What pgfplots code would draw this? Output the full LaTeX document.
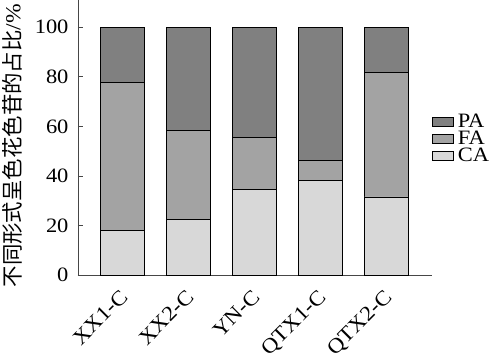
\documentclass[border=0pt]{standalone}
\usepackage{pgfplots}
\pgfplotsset{compat=1.18}
\usepackage{fontspec}
\setmainfont{Liberation Serif}[FakeStretch=1.1]
\newfontfamily\cjk{Noto Sans CJK SC}
\definecolor{cPA}{RGB}{128,128,128}
\definecolor{cFA}{RGB}{163,163,163}
\definecolor{cCA}{RGB}{216,216,216}
\definecolor{axgray}{RGB}{70,70,70}
\newcommand{\lf}{\fontsize{20.5}{25}\selectfont}
\begin{document}
\begin{tikzpicture}
\begin{axis}[
  at={(0,0)}, anchor=south west,
  scale only axis, width=354bp, height=275bp,
  ybar stacked, bar width=44bp,
  xmin=-0.667, xmax=4.697, ymin=0, ymax=111,
  axis x line*=bottom, axis y line*=left,
  axis line style={axgray, line width=0.9bp},
  xtick={0,1,2,3,4},
  xticklabels={XX1-C,XX2-C,YN-C,QTX1-C,QTX2-C},
  ytick={0,20,40,60,80,100},
  tick align=inside, major tick length=5bp,
  tick style={axgray, line width=0.8bp},
  /pgf/number format/assume math mode=true,
  yticklabel style={font=\fontsize{20.5}{25}\selectfont, xshift=-6bp},
  xticklabel style={font=\fontsize{21}{25}\selectfont, rotate=45, anchor=north east, xshift=-8bp, yshift=-4bp},
  ylabel={\cjk 不同形式呈色花色苷的占比\rmfamily /\%},
  ylabel style={font=\fontsize{21.5}{25}\selectfont, at={(axis description cs:-0.186,0.47)}, anchor=center, rotate=0},
  legend style={draw=none, fill=none, at={(axis description cs:1.0,0.495)}, anchor=west,
    row sep=-2bp, inner sep=0pt},
  reverse legend,
  legend image code/.code={\draw[#1, line width=0.6bp] (0bp,-4.5bp) rectangle (21bp,4.5bp);},
  legend cell align=left,
]
\addplot[fill=cCA, draw=black, line width=0.6bp] coordinates {(0,18) (1,22.5) (2,34.5) (3,38.3) (4,31.5)};
\addplot[fill=cFA, draw=black, line width=0.6bp] coordinates {(0,59.8) (1,35.8) (2,21.0) (3,7.9) (4,50.2)};
\addplot[fill=cPA, draw=black, line width=0.6bp] coordinates {(0,22.2) (1,41.7) (2,44.5) (3,53.8) (4,18.3)};
\legend{\lf\hspace{2bp}CA,\lf\hspace{2bp}FA,\lf\hspace{2bp}PA}
\end{axis}
\pgfresetboundingbox
\path (-78bp,-84bp) rectangle (414bp,275bp);
\end{tikzpicture}
\end{document}
